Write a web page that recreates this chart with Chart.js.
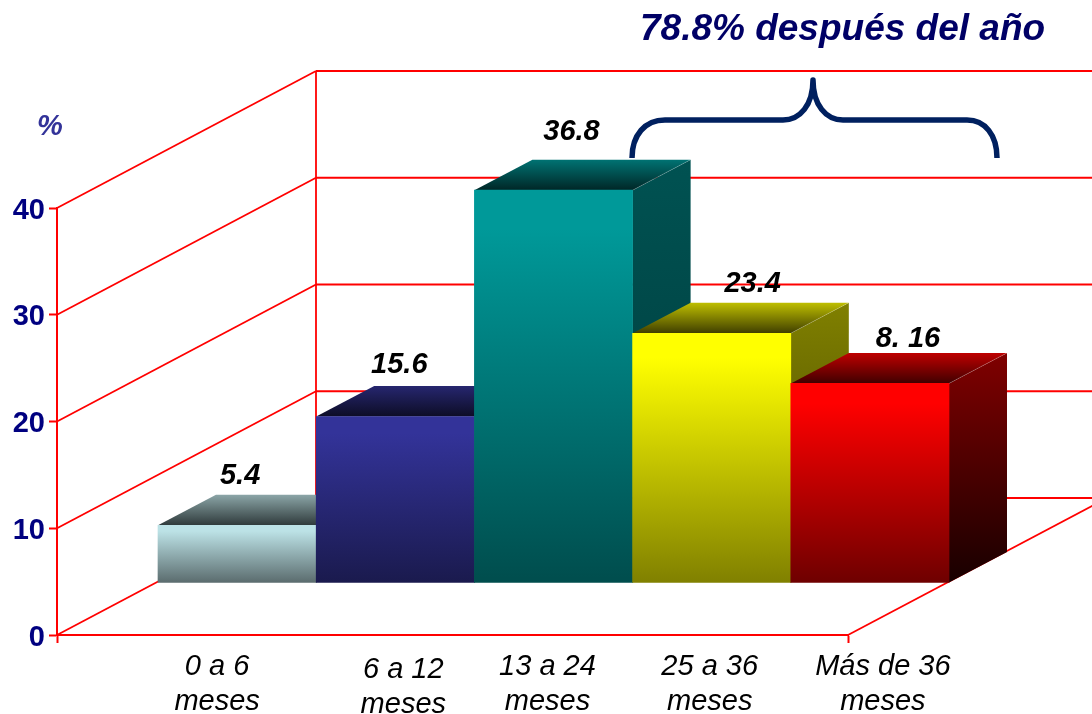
<!DOCTYPE html>
<html><head><meta charset="utf-8">
<style>html,body{margin:0;padding:0;background:#fff}canvas{display:block}</style>
<script src="https://cdn.jsdelivr.net/npm/chart.js@4"></script>
</head><body><canvas id="c" width="1092" height="714"></canvas>
<script>
const categories = [['0 a 6','meses'],['6 a 12','meses'],['13 a 24','meses'],['25 a 36','meses'],['Más de 36','meses']];
const values = [5.4, 15.6, 36.8, 23.4, 18.7];
const valueLabels = ['5.4', '15.6', '36.8', '23.4', '8. 16'];
const yTicks = [0, 10, 20, 30, 40];
const titleText = '78.8% después del año';
const unitText = '%';

const FONT = '"Liberation Sans", Arial, sans-serif';
const RED = '#ff0000';
const WALL = {dx: 259, dy: -137};
const BAR_OFFSET = {dx: 101, dy: -52};
const BAR_DEPTH = {dx: 58, dy: -30.5};
const frontStops = [['#bce2e6','#5a6b6d'],['#333399','#1a1a4d'],['#009999','#004d4d'],['#ffff00','#808000'],['#ff0000','#6e0000']];
const topStops = [['#8ba5a7','#2f3a3b'],['#26266f','#0d0d26'],['#007373','#002626'],['#bfbf00','#403f00'],['#bf0000','#400000']];
const sideStops = [['#5e7072','#2f3a3b'],['#1a1a4d','#0d0d26'],['#005252','#003a3a'],['#808000','#404000'],['#800000','#180000']];
const labelNudge = [[3,41],[4,43],[18,50],[41,41],[38,36]];
const tickNudge = [[81,0],[109,3],[95,0],[99,0],[114,0]];
const yTickDrop = 2.5;

function vGrad(ctx, y0, y1, stops, hold) {
  const g = ctx.createLinearGradient(0, y0, 0, y1);
  g.addColorStop(0, stops[0]);
  if (hold) g.addColorStop(hold, stops[0]);
  g.addColorStop(1, stops[1]);
  return g;
}
function poly(ctx, pts, fill) {
  ctx.beginPath();
  pts.forEach((p, i) => i ? ctx.lineTo(p[0], p[1]) : ctx.moveTo(p[0], p[1]));
  ctx.closePath();
  ctx.fillStyle = fill;
  ctx.fill();
}
function seg(ctx, x0, y0, x1, y1) {
  ctx.beginPath(); ctx.moveTo(x0, y0); ctx.lineTo(x1, y1); ctx.stroke();
}

const scene = {
  id: 'scene',
  beforeDraw(chart) {
    chart.scales.x.getLabelItems(chart.chartArea).forEach((it, i) => {
      if (it._moved) return;
      it._moved = true;
      it.options.translation[0] += tickNudge[i][0];
      it.options.translation[1] += tickNudge[i][1];
    });
    chart.scales.y.getLabelItems(chart.chartArea).forEach(it => {
      if (it._moved) return;
      it._moved = true;
      it.options.translation[1] += yTickDrop;
    });
  },
  beforeDatasetsDraw(chart) {
    const {ctx, chartArea: a, scales: {y}} = chart;
    ctx.save();
    ctx.strokeStyle = RED;
    ctx.lineWidth = 1.8;
    yTicks.forEach(v => {
      const py = y.getPixelForValue(v);
      seg(ctx, a.left, py, a.left + WALL.dx, py + WALL.dy);
      seg(ctx, a.left + WALL.dx, py + WALL.dy, chart.width + 40, py + WALL.dy);
    });
    seg(ctx, a.left + WALL.dx, y.getPixelForValue(40) + WALL.dy, a.left + WALL.dx, y.getPixelForValue(0) + WALL.dy);
    seg(ctx, a.right, a.bottom, a.right + WALL.dx, a.bottom + WALL.dy);

    // depth faces, left to right
    chart.getDatasetMeta(0).data.forEach((bar, i) => {
      const l = bar.x - bar.width / 2 + BAR_OFFSET.dx, r = bar.x + bar.width / 2 + BAR_OFFSET.dx;
      const t = bar.y + BAR_OFFSET.dy, b = bar.base + BAR_OFFSET.dy;
      const dx = BAR_DEPTH.dx, dy = BAR_DEPTH.dy;
      poly(ctx, [[r,t],[r+dx,t+dy],[r+dx,b+dy],[r,b]], vGrad(ctx, t+dy, b, sideStops[i]));
      poly(ctx, [[l,t],[l+dx,t+dy],[r+dx,t+dy],[r,t]], vGrad(ctx, t+dy, t, topStops[i]));
      ctx.save();
      ctx.strokeStyle = 'rgba(255,255,255,0.18)';
      ctx.lineWidth = 1;
      seg(ctx, r, t, r+dx, t+dy);
      ctx.restore();
    });
    ctx.restore();
    ctx.save();
    ctx.translate(BAR_OFFSET.dx, BAR_OFFSET.dy);
  },
  afterDatasetsDraw(chart) {
    const {ctx} = chart;
    ctx.restore();
    ctx.save();
    ctx.fillStyle = '#000';
    ctx.textAlign = 'center';
    ctx.textBaseline = 'alphabetic';
    ctx.font = 'italic bold 29px ' + FONT;
    chart.getDatasetMeta(0).data.forEach((bar, i) => {
      ctx.fillText(valueLabels[i], bar.x + BAR_OFFSET.dx + labelNudge[i][0], bar.y + BAR_OFFSET.dy - labelNudge[i][1]);
    });
    ctx.restore();
  },
  afterDraw(chart) {
    const {ctx} = chart;
    ctx.save();
    ctx.font = 'italic bold 37px ' + FONT;
    ctx.fillStyle = '#000066';
    ctx.textAlign = 'left';
    ctx.textBaseline = 'alphabetic';
    ctx.fillText(titleText, 640, 40);
    ctx.font = 'italic bold 29px ' + FONT;
    ctx.fillStyle = '#333399';
    ctx.textAlign = 'center';
    ctx.fillText(unitText, 50, 135);
    ctx.strokeStyle = '#00205f';
    ctx.lineWidth = 5.5;
    ctx.lineJoin = 'round';
    ctx.beginPath();
    ctx.moveTo(632, 158);
    ctx.bezierCurveTo(632, 135, 645, 120, 665, 120);
    ctx.lineTo(783, 120);
    ctx.bezierCurveTo(800, 120, 813, 105, 813, 80);
    ctx.bezierCurveTo(813, 105, 826, 120, 843, 120);
    ctx.lineTo(967, 120);
    ctx.bezierCurveTo(985, 120, 997, 135, 997, 158);
    ctx.stroke();
    ctx.restore();
  }
};

new Chart(document.getElementById('c'), {
  type: 'bar',
  data: {
    labels: categories,
    datasets: [{
      data: values,
      clip: false,
      borderWidth: 0,
      barPercentage: 1,
      categoryPercentage: 1,
      backgroundColor(c) {
        const y = c.chart.scales.y;
        const i = c.dataIndex;
        if (i === undefined || !y) return '#000';
        const y0 = y.getPixelForValue(values[i]), y1 = y.getPixelForValue(0);
        if (!isFinite(y0) || !isFinite(y1)) return frontStops[i][0];
        return vGrad(c.chart.ctx, y0, y1, frontStops[i], 0.1);
      }
    }]
  },
  options: {
    responsive: false,
    animation: false,
    events: [],
    layout: {padding: {top: 208, right: 244, left: 0, bottom: 0}},
    plugins: {legend: {display: false}, title: {display: false}, tooltip: {enabled: false}},
    scales: {
      x: {
        type: 'category',
        afterFit(s) { s.height = 79; },
        border: {color: RED, width: 2},
        grid: {
          drawOnChartArea: false,
          drawTicks: true,
          tickLength: 8,
          tickWidth: 2,
          tickColor: c => (c.index === 0 || c.index === undefined) ? RED : 'rgba(0,0,0,0)'
        },
        ticks: {
          autoSkip: false, maxRotation: 0, minRotation: 0, padding: 7,
          color: '#000',
          font: {family: FONT, size: 29, style: 'italic', lineHeight: 1.2}
        }
      },
      y: {
        min: 0, max: 40,
        afterFit(s) { s.width = 57; },
        afterBuildTicks(s) { s.ticks = yTicks.map(v => ({value: v})); },
        border: {color: RED, width: 2},
        grid: {drawOnChartArea: false, drawTicks: true, tickLength: 8, tickWidth: 2, tickColor: RED},
        ticks: {
          padding: 4,
          color: '#000080',
          font: {family: FONT, size: 29, weight: 'bold'}
        }
      }
    }
  },
  plugins: [scene]
});
</script></body></html>
